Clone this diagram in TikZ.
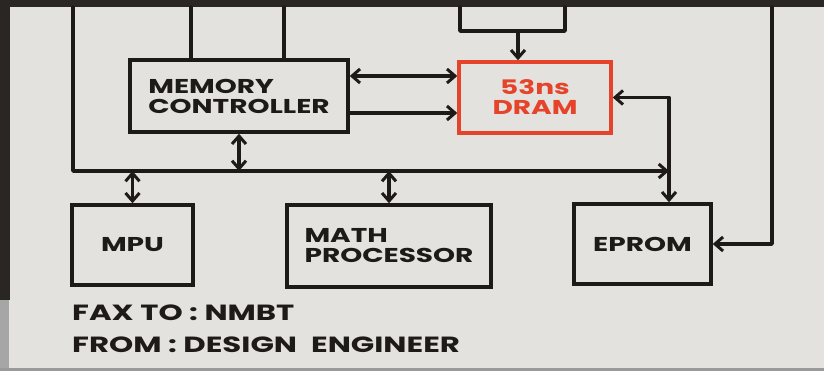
\documentclass[tikz,border=0pt]{standalone}
\usepackage{fontspec}
\setmainfont{Poppins}
\usetikzlibrary{arrows.meta}
\definecolor{paper}{HTML}{E4E2DE}
\definecolor{ink}{HTML}{1E1A18}
\definecolor{redink}{HTML}{E5432A}
\definecolor{edge}{HTML}{2A2624}
\newcommand{\handfont}[1]{\bfseries\fontsize{#1}{#1}\selectfont\addfontfeatures{FakeStretch=1.4}}
\tikzset{
  blk/.style={draw=ink, line width=3.5pt, rectangle, inner sep=0pt, font=\handfont{20}, text=ink, align=center},
  redblk/.style={blk, draw=redink, text=redink},
  wire/.style={draw=ink, line width=3.5pt, line cap=round, line join=round},
  tip/.style={-{Straight Barb[length=8pt,width=14pt,line width=3pt]}},
  dtip/.style={{Straight Barb[length=8pt,width=14pt,line width=3pt]}-{Straight Barb[length=8pt,width=14pt,line width=3pt]}},
  note/.style={font=\handfont{22}, text=ink, anchor=west, inner sep=0pt}
}
\begin{document}
\begin{tikzpicture}[x=1pt,y=-1pt]
\useasboundingbox (0,0) rectangle (824,371);
\fill[paper] (0,0) rectangle (824,371);
\fill[edge] (0,0) rectangle (824,7);
\fill[edge] (0,0) rectangle (10,300);
\fill[gray!70] (0,300) rectangle (9,371);
\fill[gray!80] (0,368) rectangle (824,371);

% boxes
\node[blk, align=left, minimum width=218pt, minimum height=72pt] (mc) at (239,96) {MEMORY\\CONTROLLER};
\node[redblk, minimum width=152pt, minimum height=71pt] (dram) at (535,97.5) {53ns\\DRAM};
\node[blk, minimum width=121pt, minimum height=80pt] (mpu) at (132.5,245) {MPU};
\node[blk, align=left, minimum width=204pt, minimum height=82pt] (math) at (389,246) {MATH\\PROCESSOR};
\node[blk, minimum width=137pt, minimum height=80pt] (eprom) at (642.5,244) {EPROM};

% free ends
\coordinate (tl) at (73,7);
\coordinate (t1) at (191,7);
\coordinate (t2) at (284,7);
\coordinate (t3) at (460,7);
\coordinate (t4) at (565,7);
\coordinate (jn) at (518,31);
\coordinate (t5) at (772,7);
\coordinate (ej) at (669,171);

% connectors
\draw[wire, tip] (tl) |- (ej);
\draw[wire] (t1) -- (t1 |- mc.north);
\draw[wire] (t2) -- (t2 |- mc.north);
\draw[wire] (t3) |- (t4 |- jn) -- (t4);
\draw[wire, tip] (jn) -- (jn |- dram.north);
\draw[wire, dtip] (dram.east) -| (eprom.north -| ej);
\draw[wire, tip] (t5) |- (eprom.east);
\draw[wire, dtip] ([yshift=20pt]mc.east) -- ([yshift=20pt]mc.east -| dram.west);
\draw[wire, tip] ([yshift=-17pt]mc.east) -- ([yshift=-17pt]mc.east -| dram.west);
\draw[wire, dtip] (mc.south) -- (mc.south |- ej);
\draw[wire, dtip] (mpu.north) -- (mpu.north |- ej);
\draw[wire, dtip] (math.north) -- (math.north |- ej);

% notes
\node[note] (fax) at (72,313) {FAX TO : NMBT};
\node[note] (from) at (72,345) {FROM : DESIGN\hspace{14pt}ENGINEER};
\end{tikzpicture}
\end{document}
